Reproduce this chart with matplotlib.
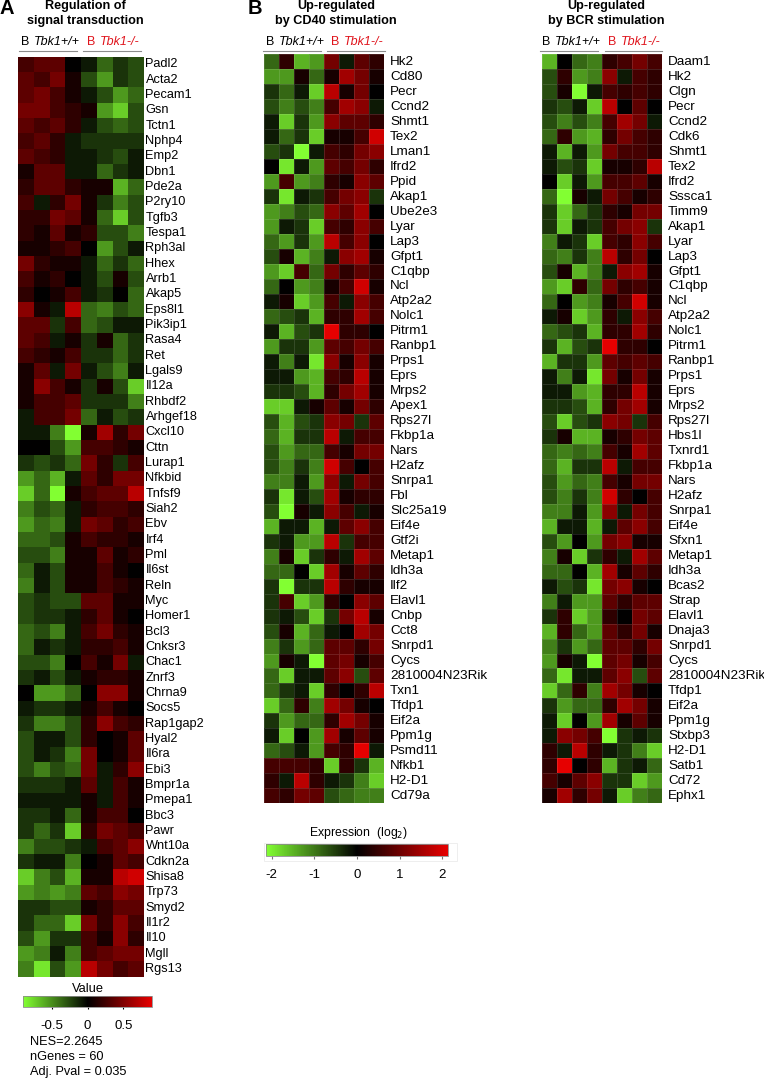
import numpy as np
import matplotlib
matplotlib.use("Agg")
import matplotlib.pyplot as plt
from matplotlib.colors import LinearSegmentedColormap, Normalize
from matplotlib.cm import ScalarMappable
from matplotlib.patches import Rectangle

plt.rcParams['font.family'] = ['Liberation Sans', 'DejaVu Sans']

W, H = 764, 1079

# gene names for each heatmap
genes_a = ["Padl2", "Acta2", "Pecam1", "Gsn", "Tctn1", "Nphp4", "Emp2", "Dbn1", "Pde2a", "P2ry10",
           "Tgfb3", "Tespa1", "Rph3al", "Hhex", "Arrb1", "Akap5", "Eps8l1", "Pik3ip1", "Rasa4", "Ret",
           "Lgals9", "Il12a", "Rhbdf2", "Arhgef18", "Cxcl10", "Cttn", "Lurap1", "Nfkbid", "Tnfsf9", "Siah2",
           "Ebv", "Irf4", "Pml", "Il6st", "Reln", "Myc", "Homer1", "Bcl3", "Cnksr3", "Chac1",
           "Znrf3", "Chrna9", "Socs5", "Rap1gap2", "Hyal2", "Il6ra", "Ebi3", "Bmpr1a", "Pmepa1", "Bbc3",
           "Pawr", "Wnt10a", "Cdkn2a", "Shisa8", "Trp73", "Smyd2", "Il1r2", "Il10", "Mgll", "Rgs13"]

genes_cd40 = ["Hk2", "Cd80", "Pecr", "Ccnd2", "Shmt1", "Tex2", "Lman1", "Ifrd2", "Ppid", "Akap1",
              "Ube2e3", "Lyar", "Lap3", "Gfpt1", "C1qbp", "Ncl", "Atp2a2", "Nolc1", "Pitrm1", "Ranbp1",
              "Prps1", "Eprs", "Mrps2", "Apex1", "Rps27l", "Fkbp1a", "Nars", "H2afz", "Snrpa1", "Fbl",
              "Slc25a19", "Eif4e", "Gtf2i", "Metap1", "Idh3a", "Ilf2", "Elavl1", "Cnbp", "Cct8", "Snrpd1",
              "Cycs", "2810004N23Rik", "Txn1", "Tfdp1", "Eif2a", "Ppm1g", "Psmd11", "Nfkb1", "H2-D1", "Cd79a"]

genes_bcr = ["Daam1", "Hk2", "Clgn", "Pecr", "Ccnd2", "Cdk6", "Shmt1", "Tex2", "Ifrd2", "Sssca1",
             "Timm9", "Akap1", "Lyar", "Lap3", "Gfpt1", "C1qbp", "Ncl", "Atp2a2", "Nolc1", "Pitrm1",
             "Ranbp1", "Prps1", "Eprs", "Mrps2", "Rps27l", "Hbs1l", "Txnrd1", "Fkbp1a", "Nars", "H2afz",
             "Snrpa1", "Eif4e", "Sfxn1", "Metap1", "Idh3a", "Bcas2", "Strap", "Elavl1", "Dnaja3", "Snrpd1",
             "Cycs", "2810004N23Rik", "Tfdp1", "Eif2a", "Ppm1g", "Stxbp3", "H2-D1", "Satb1", "Cd72", "Ephx1"]

# values, scale -10 (full green) to 10 (full red)
values_a = [
    [3, 4, 4, 0, -1, -4, -2, -3], [4, 3, 5, 1, -3, -6, -2, -3], [4, 5, 3, 1, -1, -3, -6, -4],
    [5, 5, 3, 2, 1, -6, -8, -3], [4, 3, 4, 2, -1, -3, -4, -3], [3, 4, 2, -1, -2, -2, -2, -2],
    [4, 3, 2, -1, -1, -2, -3, -1], [1, 4, 4, -1, -1, -4, -2, -1], [2, 4, 4, 2, 1, 1, -7, -4],
    [3, -1, 2, 5, 1, -2, -5, -3], [2, 2, 5, 4, 1, -4, -8, -3], [2, 1, 4, 1, 2, -3, -3, -5],
    [1, 1, 2, 3, 0, -6, -3, -1], [5, 2, 1, 1, -1, -4, -2, -4], [3, 1, 2, 0, -1, -3, 1, -3],
    [2, 0, 1, 3, -1, -2, 0, -4], [6, 1, -1, 8, -4, -5, -3, -4], [4, 4, -2, 3, -4, -3, -1, -1],
    [4, 3, -1, 1, -2, 1, -4, -2], [3, 2, 1, 3, -2, -2, -4, -2], [1, 4, -1, 5, -1, -3, -5, -1],
    [1, 6, 3, 1, -2, 1, -3, -8], [1, 3, 3, 4, -2, -2, -2, -5], [-1, 3, 3, 5, -4, -1, -3, -2],
    [-1, -1, -5, -10, 1, 7, 2, 5], [0, 0, -3, -6, 3, 3, 2, 1], [-2, -3, -2, -4, 5, 2, -2, 3],
    [-6, -4, -7, -1, 4, 2, 5, 5], [-8, -4, -10, 1, 3, 4, 4, 8], [-5, -3, -4, -1, 2, 3, 3, 2],
    [-6, -4, -5, -1, 5, 4, 2, 3], [-4, -4, -3, 1, 3, 2, 2, 1], [-3, -3, -5, 1, 1, 4, 1, 2],
    [-4, -1, -3, 1, 1, 3, 1, 0], [-5, -1, -3, 1, 1, 3, 2, 1], [-3, -2, -3, -3, 4, 4, 1, 1],
    [-3, -2, -2, -1, 2, 4, 1, 0], [-4, -3, -5, -1, 3, 5, 2, 1], [-4, -1, -2, -1, 2, 2, 3, 1],
    [-3, -3, -5, 0, 3, 1, 5, -1], [-2, -1, -3, -1, 1, 2, 2, 1], [0, -6, -6, -4, 0, 6, 6, 1],
    [-1, -2, -2, -1, 1, 3, 1, 0], [-2, -5, -5, -3, 2, 6, 3, 2], [-3, -1, -1, -3, 2, 0, 1, 4],
    [-3, -1, -2, -5, 5, 0, 1, 4], [-3, -5, -3, -4, 5, -1, 2, 6], [-2, -2, -2, -1, 4, -1, 3, 1],
    [-1, -1, -1, -1, 1, -1, 3, 1], [-2, -2, -1, -4, 1, 3, 3, 0], [-2, -4, -2, -8, 2, 5, 4, 3],
    [-5, -3, -3, -2, -1, 3, 4, 6], [-2, -1, -1, -5, 0, 1, 4, 3], [-8, -5, -3, -7, 1, 1, 8, 9],
    [-6, -5, -6, -5, 4, 3, 6, 5], [-2, -2, -3, -3, 1, 2, 4, 4], [-2, -4, -4, -8, 5, 2, 6, 3],
    [-3, -6, -2, -2, 3, 1, 6, 2], [-6, -5, -1, -5, 3, 4, 5, 5], [-5, -9, -3, -6, 8, 5, 3, 4],
]

values_cd40 = [
    [-4, 2, -7, -6, 5, -1, 4, 2], [-6, -6, 1, -4, 1, 7, 5, 1], [-2, -4, -1, -8, 8, 1, 5, 0],
    [-3, -5, -3, -5, 3, 7, 6, -1], [-1, -8, -2, -6, 6, 4, 4, 2], [-1, -4, -2, -8, 1, 1, 3, 9],
    [-3, -2, -10, -1, 3, 2, 5, 6], [0, -9, -1, -6, 4, 3, 5, 2], [-6, 3, -6, -5, 2, 1, 6, 4],
    [-2, -9, -1, -2, 3, 5, 6, -2], [-6, -5, -3, -4, 6, 4, 7, 0], [-6, -1, -2, -8, 3, 2, 6, 3],
    [-4, -6, -2, -6, 8, 3, 6, 0], [-3, 1, -7, -5, -1, 6, 7, 1], [-6, -8, 3, -4, 5, 2, 4, 2],
    [-4, 0, -6, -5, 1, 3, 9, 1], [-1, 1, -8, -6, 3, -1, 6, 3], [-4, -3, -2, -7, 2, 2, 7, 3],
    [-1, -7, -3, -2, 10, 2, 2, 0], [-6, -2, -2, -6, 4, 3, 5, 3], [-1, -5, -1, -9, 6, 1, 6, 1],
    [-1, -1, -6, -7, 3, 2, 8, 1], [-2, -2, -3, -7, 2, 5, 7, 1], [-8, -8, -1, 1, 4, 1, 5, 2],
    [-3, -7, -3, -2, 6, 5, -2, 4], [-4, -7, -2, -2, 8, -1, 3, 3], [-3, -6, -4, -4, 3, 1, 5, 5],
    [-3, -5, -2, -5, 9, 3, 0, 3], [-5, -5, -1, -6, 6, -1, 5, 3], [-2, -9, -1, -3, 7, 1, 2, 2],
    [-3, -10, 1, -1, 6, 3, -1, 1], [-7, -1, -1, -7, -1, 4, 6, 3], [-2, -1, -6, -6, 8, -2, 3, 3],
    [-5, 1, -8, -2, 2, -1, 7, 4], [-4, -4, 0, -8, 7, 1, 4, 2], [-2, -10, -2, -2, 8, 2, 1, 1],
    [-2, 3, -8, -6, 2, 0, 6, 4], [-2, -1, -3, -8, -2, 5, 8, 1], [-3, 1, -7, -4, -1, 0, 7, 5],
    [-5, -2, -6, -4, 4, 4, 2, 5], [-6, 1, -1, -10, 4, 5, 1, 3], [-4, -8, -1, -1, 4, 6, -3, 4],
    [-4, -2, -1, -8, 2, 0, 2, 8], [-8, -4, 2, -5, 7, 5, 1, 0], [-2, -6, -4, -4, 2, 7, 5, 1],
    [-1, -8, 0, -6, 7, 1, 4, 1], [-4, -3, -1, -6, 3, 2, 10, -1], [3, 3, 3, 2, -8, 2, -2, -7],
    [2, -1, 8, 2, -1, -2, -5, -8], [3, 2, 5, 4, -3, -4, -5, -5],
]

values_bcr = [
    [-7, 0, -4, -5, 2, 3, 5, 3], [-3, 2, -6, -5, 6, -1, 3, 2], [-3, 1, -10, -1, 3, 2, 3, 2],
    [-2, -3, -1, -8, 8, 0, 4, 0], [-3, -5, -3, -5, 3, 7, 5, -1], [-4, 2, -6, -7, 2, 5, 3, 2],
    [-1, -7, -1, -6, 5, 3, 3, 2], [-1, -3, -2, -8, 1, 1, 2, 8], [0, -8, -1, -6, 3, 3, 4, 1],
    [-4, -10, 1, -1, 5, 3, 1, 2], [-2, -8, -4, -2, 2, 1, 5, 5], [-2, -8, -1, -2, 3, 5, 6, -2],
    [-5, -1, -2, -8, 3, 2, 6, 3], [-4, -5, -2, -5, 8, 2, 5, 0], [-3, 1, -7, -5, -1, 6, 7, 1],
    [-6, -8, 2, -4, 5, 2, 3, 1], [-4, 0, -6, -5, 1, 3, 9, 1], [-1, 1, -8, -6, 2, -1, 6, 3],
    [-4, -3, -2, -7, 2, 2, 7, 2], [-2, -7, -3, -2, 10, 2, 2, 0], [-7, -2, -2, -6, 4, 3, 4, 3],
    [-1, -5, -1, -9, 5, 1, 5, 1], [-1, -1, -6, -7, 2, 2, 8, 1], [-2, -2, -3, -7, 2, 5, 7, 1],
    [-3, -8, -3, -2, 6, 5, -2, 3], [-2, 1, -7, -7, 1, 2, 5, 4], [-4, -5, -4, -5, 3, 1, 7, 4],
    [-4, -7, -2, -2, 8, -1, 3, 3], [-3, -6, -4, -5, 3, 1, 5, 5], [-3, -5, -2, -5, 9, 2, 0, 3],
    [-5, -5, -1, -6, 6, -1, 5, 3], [-7, -1, -1, -7, -1, 4, 6, 3], [-3, -6, 0, -6, 5, 6, 1, 1],
    [-5, 1, -8, -2, 2, -1, 7, 4], [-4, -4, 0, -7, 7, 1, 4, 2], [-1, -3, -2, -9, 5, 6, 1, 0],
    [-5, -1, -6, -6, 4, 2, 4, 4], [-2, 2, -8, -6, 2, 0, 5, 4], [-7, 2, -4, -6, 4, 2, 5, 1],
    [-5, -2, -6, -4, 4, 4, 2, 5], [-6, 1, -1, -10, 4, 5, 1, 3], [-4, -9, -1, -1, 4, 6, -3, 4],
    [-8, -4, 2, -5, 7, 5, 1, 0], [-2, -6, -4, -4, 2, 7, 5, 1], [-1, -8, 0, -6, 7, 1, 4, 1],
    [-1, 6, 5, 3, -10, -2, -1, -2], [2, -1, 8, 2, -1, -2, -5, -8], [2, 10, 0, 2, -7, -2, -1, -4],
    [3, 1, 4, 6, -2, -2, -8, -6], [1, 7, 2, 5, -1, -8, -5, -4],
]

ticks_a = [-0.5, 0, 0.5]
ticks_b = [-2, -1, 0, 1, 2]
stats_lines = ["NES=2.2645", "nGenes = 60", "Adj. Pval = 0.035"]

cmap = LinearSegmentedColormap.from_list("gkr", ["#82ff32", "#000000", "#e60000"])

fig = plt.figure(figsize=(W / 100, H / 100), dpi=100)


def px_axes(x0, y0, x1, y1):
    # axes from pixel box, y measured from the top of the image
    return fig.add_axes([x0 / W, 1 - y1 / H, (x1 - x0) / W, (y1 - y0) / H])


def put_text(x, y, s, **kw):
    kw.setdefault("va", "center")
    kw.setdefault("fontsize", 9)
    fig.text(x / W, 1 - y / H, s, **kw)


def heatmap(box, values, genes, label_x, grid, label_size):
    ax = px_axes(*box)
    if grid:
        ax.pcolormesh(values, cmap=cmap, vmin=-10, vmax=10, edgecolors=(1, 1, 1, 0.12), linewidth=0.5)
    else:
        ax.pcolormesh(values, cmap=cmap, vmin=-10, vmax=10)
    ax.invert_yaxis()
    ax.axis("off")
    row_h = (box[3] - box[1]) / len(genes)
    for i, g in enumerate(genes):
        put_text(label_x, box[1] + (i + 0.5) * row_h, g, fontsize=label_size)


def header(title_x, title, wt_x, wt_line, ko_x, ko_line):
    put_text(title_x, 6, title[0], fontweight="bold", ha="center", fontsize=9.1)
    put_text(title_x, 21, title[1], fontweight="bold", ha="center", fontsize=9.1)
    put_text(wt_x, 42, "B", fontsize=9)
    put_text(wt_x + 13, 42, "Tbk1+/+", fontsize=9, style="italic")
    put_text(ko_x, 42, "B", fontsize=9, color="#e0141c")
    put_text(ko_x + 13, 42, "Tbk1-/-", fontsize=9, style="italic", color="#e0141c")
    for a, b in (wt_line, ko_line):
        fig.add_artist(plt.Line2D([a / W, b / W], [1 - 51 / H, 1 - 51 / H], color="#8c8c8c", lw=0.8))


def colorbar(box, limit, ticks, fmt, tick_color, tick_len):
    cax = px_axes(*box)
    sm = ScalarMappable(norm=Normalize(-limit, limit), cmap=cmap)
    cb = fig.colorbar(sm, cax=cax, orientation="horizontal")
    cb.set_ticks(ticks)
    cb.set_ticklabels([fmt(t) for t in ticks])
    cax.tick_params(length=tick_len, width=0.8, direction="out", color=tick_color,
                    pad=9.5 - tick_len, labelsize=9.5)
    cb.outline.set_edgecolor("#8c8c8c")
    cb.outline.set_linewidth(0.6)


heatmap((18, 56.7, 144, 976.7), values_a, genes_a, 145.5, False, 9.2)
heatmap((264, 54.3, 384, 803.3), values_cd40, genes_cd40, 390, True, 9.7)
heatmap((542, 54.3, 662, 803.3), values_bcr, genes_bcr, 668, True, 9.7)

header(85, ("Regulation of", "signal transduction"), 21, (18.7, 76.7), 87, (83, 141))
header(336, ("Up-regulated", "by CD40 stimulation"), 266, (262.7, 320.5), 331, (327, 385))
header(606, ("Up-regulated", "by BCR stimulation"), 542, (540, 598), 608, (605, 662))

put_text(0, 8, "A", fontsize=14.5, fontweight="bold")
put_text(248, 8, "B", fontsize=14.5, fontweight="bold")

# faint frame round the lower colour bar
fig.add_artist(Rectangle((264 / W, 1 - 861 / H), 193 / W, 18.5 / H, transform=fig.transFigure,
                         fill=False, edgecolor="#eeeeee", lw=0.7))

colorbar((23.3, 996, 152, 1006.7), 0.9, ticks_a, lambda t: "0" if t == 0 else f"{t:g}", "black", 1.2)
colorbar((266, 844, 447.7, 855.7), 2.13, ticks_b, lambda t: f"{t:d}", "#777777", 2)

put_text(88, 989, "Value", ha="center", fontsize=9.3)
put_text(359, 833, "Expression  (log$_2$)", ha="center", fontsize=8.8)

for y, line in zip([1042, 1057, 1072], stats_lines):
    put_text(30, y, line, fontsize=9.2)

fig.savefig("out.png", dpi=100)
